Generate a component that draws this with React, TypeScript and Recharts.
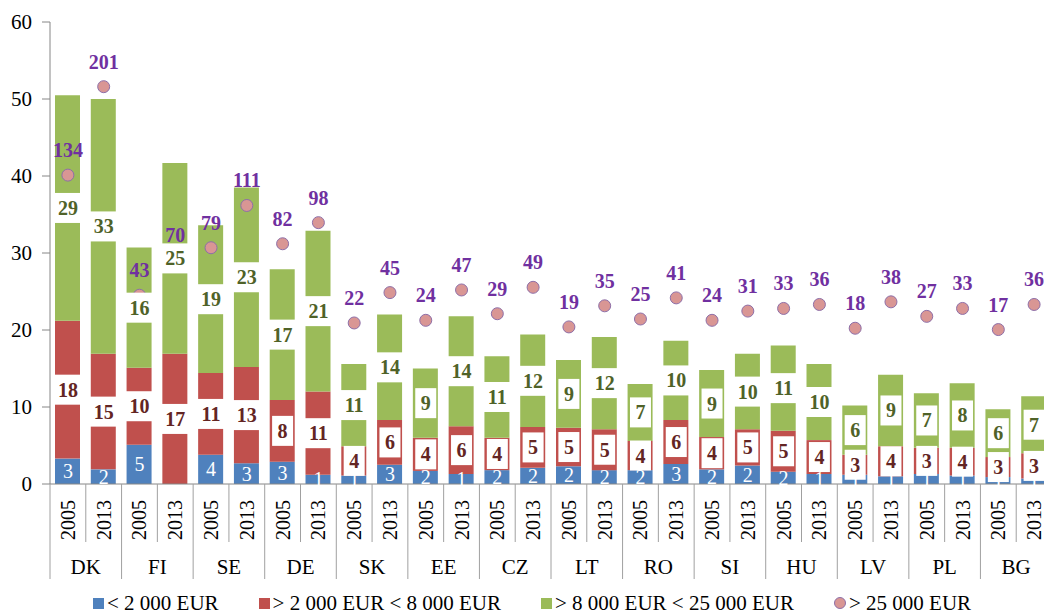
import React from "react";
import { ComposedChart, Bar, Scatter, XAxis, YAxis, Legend } from "recharts";

const countries = ["DK", "FI", "SE", "DE", "SK", "EE", "CZ", "LT", "RO", "SI", "HU", "LV", "PL", "BG"];
const years = ["2005", "2013"];

// pairs per country: 2005, 2013
const under2k = [3.3, 1.9, 5.1, 0, 3.8, 2.7, 2.9, 1.2, 1.1, 2.5, 1.7, 1.3, 1.8, 2.1, 2.3, 1.8, 1.8, 2.6, 1.9, 2.4, 1.6, 1.3, 1.2, 1.0, 1.3, 1.1, 0.9, 0.7];
const from2kTo8k = [17.9, 15.0, 10.0, 16.9, 10.6, 12.5, 8.0, 10.8, 3.8, 5.8, 4.3, 6.2, 4.2, 5.3, 5.0, 5.3, 3.8, 5.7, 4.2, 4.7, 5.3, 4.4, 2.6, 3.9, 3.4, 3.6, 2.6, 3.3];
const from8kTo25k = [29.3, 33.1, 15.6, 24.8, 19.2, 23.3, 17.0, 20.9, 10.7, 13.7, 9.0, 14.3, 10.6, 12.0, 8.8, 12.0, 7.4, 10.3, 8.7, 9.8, 11.1, 9.9, 6.4, 9.3, 7.1, 8.4, 6.2, 7.4];
const over25k = [134, 201, 43, 70, 79, 111, 82, 98, 22, 45, 24, 47, 29, 49, 19, 35, 25, 41, 24, 31, 33, 36, 18, 38, 27, 33, 17, 36];

const yTicks = [0, 10, 20, 30, 40, 50, 60];

const FONT = '"Liberation Serif", "Times New Roman", serif';
const CHART_W = 1052;
const CHART_H = 614;
const Y_AXIS_W = 50;
const BAND = (CHART_W - Y_AXIS_W) / under2k.length;

const BLUE = "#4F81BD";
const RED = "#C0504D";
const GREEN = "#9BBB59";
const PINK = "#D99694";
const PURPLE = "#7030A0";

const rows = under2k.map((b, i) => {
  const r = from2kTo8k[i];
  const g = from8kTo25k[i];
  return {
    key: countries[Math.floor(i / 2)] + " " + years[i % 2],
    country: countries[Math.floor(i / 2)],
    year: years[i % 2],
    blue: b,
    red: r,
    green: g,
    big: over25k[i],
    blueMid: b / 2,
    redMid: b + r / 2,
    greenMid: b + r + g / 2,
  };
});

const boxLabel = (field: string, color: string) => (props: any) => {
  const { cx, cy, payload } = props;
  const text = String(Math.round(payload[field]));
  const w = text.length > 1 ? 31 : 21;
  return (
    <g>
      <rect x={cx - w / 2} y={cy - 15} width={w} height={30} fill="#FFFFFF" />
      <text
        x={cx}
        y={cy}
        textAnchor="middle"
        dominantBaseline="central"
        fontFamily={FONT}
        fontSize={20}
        fontWeight="bold"
        fill={color}
      >
        {text}
      </text>
    </g>
  );
};

const blueLabel = (props: any) => {
  const { cx, cy, payload } = props;
  const v = Math.round(payload.blue);
  if (!v) return <g />;
  return (
    <text x={cx} y={cy} textAnchor="middle" dominantBaseline="central" fontFamily={FONT} fontSize={20} fill="#FFFFFF">
      {v}
    </text>
  );
};

const bigLabel = (props: any) => {
  const { cx, cy, payload } = props;
  return (
    <text x={cx} y={cy - 25} textAnchor="middle" dominantBaseline="central" fontFamily={FONT} fontSize={20} fontWeight="bold" fill={PURPLE}>
      {payload.big}
    </text>
  );
};

const dot = (props: any) => {
  const { cx, cy } = props;
  return <circle cx={cx} cy={cy} r={6} fill={PINK} stroke="#8E6FA8" strokeWidth={1} />;
};

const YearTick = (props: any) => {
  const { x, y, index } = props;
  const row = rows[index];
  if (!row) return <g />;
  const first = row.year === "2005";
  const last = index === rows.length - 1;
  return (
    <g>
      <text
        x={x}
        y={y + 16}
        transform={`rotate(-90, ${x}, ${y + 16})`}
        textAnchor="end"
        dominantBaseline="central"
        fontFamily={FONT}
        fontSize={20}
        fill="#000"
      >
        {row.year}
      </text>
      {first && (
        <>
          <line x1={x - BAND / 2} x2={x - BAND / 2} y1={y} y2={y + 95} stroke="#A0A0A0" />
          <line x1={x + BAND / 2} x2={x + BAND / 2} y1={y} y2={y + 58} stroke="#A0A0A0" />
          <text
            x={x + BAND / 2}
            y={y + 83}
            textAnchor="middle"
            dominantBaseline="central"
            fontFamily={FONT}
            fontSize={21}
            fill="#000"
          >
            {row.country}
          </text>
        </>
      )}
      {last && <line x1={x + BAND / 2} x2={x + BAND / 2} y1={y} y2={y + 95} stroke="#A0A0A0" />}
    </g>
  );
};

const legendItems = [
  { label: "< 2 000 EUR", color: BLUE, circle: false },
  { label: "> 2 000 EUR < 8 000 EUR", color: RED, circle: false },
  { label: "> 8 000 EUR < 25 000 EUR", color: GREEN, circle: false },
  { label: "> 25 000 EUR", color: PINK, circle: true },
];

const renderLegend = () => (
  <div
    style={{
      display: "flex",
      gap: 40,
      paddingLeft: 93,
      paddingTop: 8,
      height: 30,
      boxSizing: "border-box",
      fontFamily: FONT,
      fontSize: 21,
      lineHeight: "22px",
      color: "#000",
      whiteSpace: "nowrap",
    }}
  >
    {legendItems.map((it) => (
      <div key={it.label} style={{ display: "flex", alignItems: "center" }}>
        <span
          style={{
            display: "inline-block",
            width: it.circle ? 12 : 11,
            height: it.circle ? 12 : 11,
            background: it.color,
            borderRadius: it.circle ? "50%" : 0,
            border: it.circle ? "1px solid #8E6FA8" : "none",
            boxSizing: "border-box",
            marginRight: 3,
          }}
        />
        {it.label}
      </div>
    ))}
  </div>
);

export default function App() {
  return (
    <div style={{ position: "absolute", left: 0, top: 0, width: 1044, height: 614, overflow: "hidden", background: "#fff" }}>
      <ComposedChart width={CHART_W} height={CHART_H} data={rows} margin={{ top: 22, right: 0, bottom: 0, left: 0 }}>
        <XAxis
          dataKey="key"
          interval={0}
          height={100}
          tickLine={false}
          tickSize={0}
          tickMargin={0}
          axisLine={{ stroke: "#868686" }}
          tick={YearTick}
        />
        <YAxis
          domain={[0, 60]}
          ticks={yTicks}
          width={Y_AXIS_W}
          tickSize={8}
          tickMargin={10}
          axisLine={{ stroke: "#868686" }}
          tickLine={{ stroke: "#868686" }}
          tick={{ fontFamily: FONT, fontSize: 21, fill: "#000" }}
        />
        <YAxis yAxisId="big" orientation="right" domain={[-100, 250]} hide />
        <Legend verticalAlign="bottom" content={renderLegend} />
        <Bar dataKey="blue" stackId="s" fill={BLUE} barSize={25} isAnimationActive={false} />
        <Bar dataKey="red" stackId="s" fill={RED} barSize={25} isAnimationActive={false} />
        <Bar dataKey="green" stackId="s" fill={GREEN} barSize={25} isAnimationActive={false} />
        <Scatter yAxisId="big" dataKey="big" shape={dot} isAnimationActive={false} />
        <Scatter dataKey="blueMid" shape={blueLabel} isAnimationActive={false} />
        <Scatter dataKey="redMid" shape={boxLabel("red", "#632523")} isAnimationActive={false} />
        <Scatter dataKey="greenMid" shape={boxLabel("green", "#4F6228")} isAnimationActive={false} />
        <Scatter yAxisId="big" dataKey="big" shape={bigLabel} isAnimationActive={false} />
      </ComposedChart>
    </div>
  );
}
